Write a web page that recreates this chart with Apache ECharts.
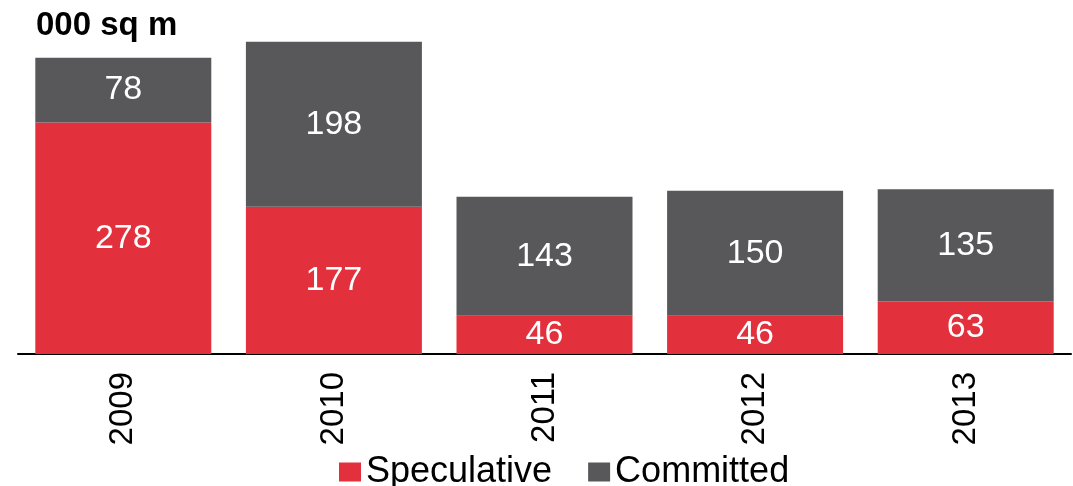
<!DOCTYPE html>
<html><head><meta charset="utf-8">
<script src="https://cdn.jsdelivr.net/npm/echarts@6/dist/echarts.min.js"></script>
<style>html,body{margin:0;padding:0;background:#fff}#c{width:1073px;height:486px}</style>
</head><body><div id="c"></div>
<script>
const categories = ['2009', '2010', '2011', '2012', '2013'];
const speculative = [278, 177, 46, 46, 63];
const committed = [78, 198, 143, 150, 135];
const seriesNames = ['Speculative', 'Committed'];
const unitTitle = '000 sq m';

const FONT = '"Liberation Sans", Arial, sans-serif';
const chart = echarts.init(document.getElementById('c'), null, {renderer: 'canvas'});
const lbl = {show: true, position: 'inside', color: '#fff', fontSize: 34, fontFamily: FONT};
chart.setOption({
  animation: false,
  title: {text: unitTitle, left: 31, top: 4, textStyle: {fontSize: 33, fontWeight: 'bold', color: '#000', fontFamily: FONT}},
  legend: {
    left: 334, top: 449, itemWidth: 22, itemHeight: 19, itemGap: 36,
    icon: 'rect',
    textStyle: {fontSize: 36, color: '#000', fontFamily: FONT},
    data: seriesNames
  },
  grid: {left: 18, right: 2, top: 21, bottom: 132, containLabel: false},
  xAxis: {
    type: 'category', data: categories,
    axisLine: {lineStyle: {color: '#000', width: 2}},
    axisTick: {show: false},
    axisLabel: {rotate: 90, margin: 18, fontSize: 33, color: '#000', fontFamily: FONT}
  },
  yAxis: {type: 'value', min: 0, max: 400, show: false, splitLine: {show: false}},
  series: [
    {name: seriesNames[0], type: 'bar', stack: 's', data: speculative, barWidth: 176,
     itemStyle: {color: '#E2303D'}, label: lbl},
    {name: seriesNames[1], type: 'bar', stack: 's', data: committed, barWidth: 176,
     itemStyle: {color: '#58585A'}, label: lbl}
  ]
});
</script></body></html>
